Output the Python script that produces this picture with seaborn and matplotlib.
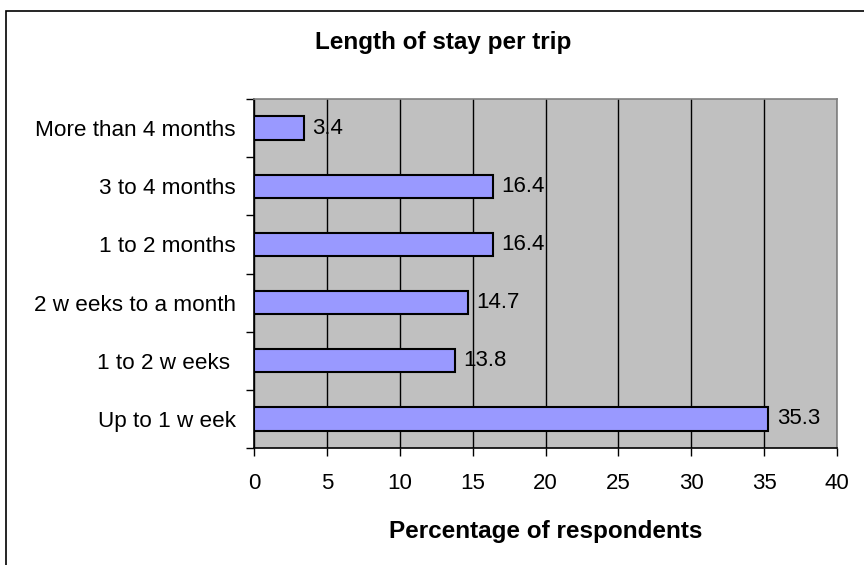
import matplotlib
matplotlib.use("Agg")
import matplotlib.pyplot as plt
from matplotlib.patches import Rectangle
from matplotlib.ticker import FixedLocator
import seaborn as sns
import pandas as pd

categories = [
    "More than 4 months",
    "3 to 4 months",
    "1 to 2 months",
    "2 w eeks to a month",
    "1 to 2 w eeks ",
    "Up to 1 w eek",
]
percentages = [3.4, 16.4, 16.4, 14.7, 13.8, 35.3]
x_ticks = [0, 5, 10, 15, 20, 25, 30, 35, 40]

df = pd.DataFrame({"stay": categories, "pct": percentages})

sns.set_theme(style="white")
plt.rcParams["font.family"] = ["Liberation Sans", "DejaVu Sans"]

fig = plt.figure(figsize=(8.64, 5.65), dpi=100)
ax = fig.add_axes([254 / 864, 1 - 448 / 565, (837 - 254) / 864, (448 - 99) / 565])

sns.barplot(data=df, x="pct", y="stay", order=categories, orient="h",
            color="#9999FF", saturation=1, width=0.4,
            edgecolor="black", linewidth=1.5, ax=ax, zorder=3)

ax.set_facecolor("#C0C0C0")
ax.set_xlim(0, 40)
ax.set_ylim(len(categories) - 0.5, -0.5)
ax.xaxis.set_major_locator(FixedLocator(x_ticks))
ax.set_xticklabels([str(t) for t in x_ticks], fontsize=16)
ax.grid(axis="x", color="black", linewidth=1, zorder=1)
ax.grid(axis="y", visible=False)
ax.set_axisbelow(True)

# category separators as outward ticks, labels at category centres
ax.yaxis.set_minor_locator(FixedLocator([i - 0.5 for i in range(len(categories) + 1)]))
ax.tick_params(axis="y", which="major", length=0, pad=13, labelsize=16.2)
ax.tick_params(axis="y", which="minor", length=6, width=1, color="black", left=True)
ax.tick_params(axis="x", which="major", length=6, width=1, color="black",
               bottom=True, pad=12, labelsize=16)
for lab in ax.get_yticklabels() + ax.get_xticklabels():
    lab.set_color("black")

for side in ("left", "bottom"):
    ax.spines[side].set_color("black")
    ax.spines[side].set_linewidth(1.2)
for side in ("top", "right"):
    ax.spines[side].set_color("#808080")
    ax.spines[side].set_linewidth(1.2)

ax.set_ylabel("")
ax.set_xlabel("Percentage of respondents", fontsize=17.5, fontweight="bold",
              labelpad=19, color="black")

for i, v in enumerate(percentages):
    ax.annotate(f"{v}", xy=(v, i), xytext=(6, 0), textcoords="offset points",
                va="center", ha="left", fontsize=16, color="black", zorder=5)

fig.text(443 / 864, 1 - 42 / 565, "Length of stay per trip", ha="center",
         va="center", fontsize=17.5, fontweight="bold", color="black")

# chart frame
fig.patches.append(Rectangle((5.5 / 864, -0.1), 1.2, 1 - 10.5 / 565 + 0.1,
                             transform=fig.transFigure, fill=False,
                             edgecolor="black", linewidth=1.2))

fig.savefig("out.png", dpi=100, facecolor="white")
